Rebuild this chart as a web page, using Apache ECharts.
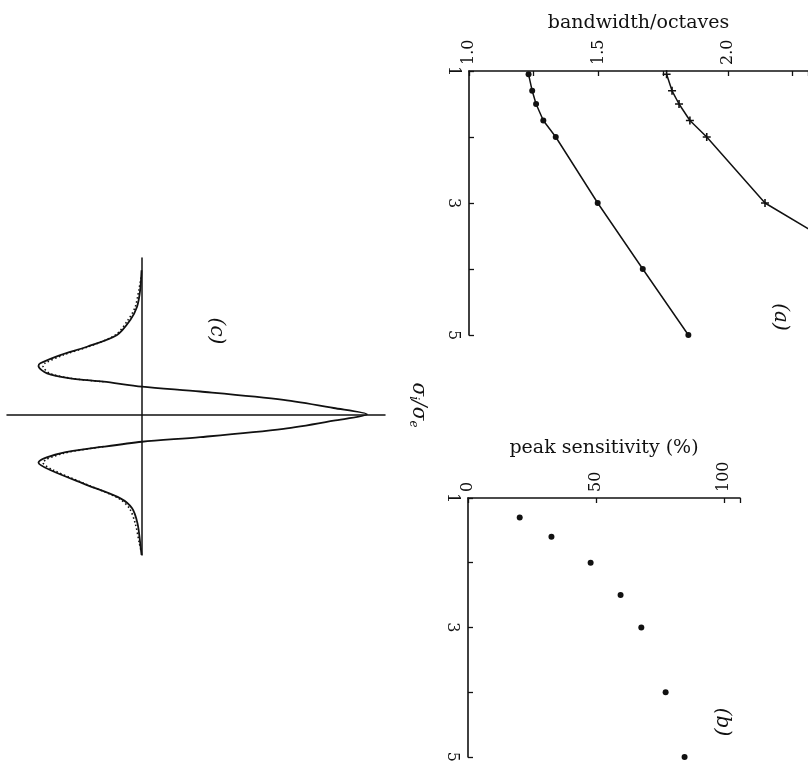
<!DOCTYPE html>
<html>
<head>
<meta charset="utf-8">
<script src="https://cdn.jsdelivr.net/npm/echarts@6/dist/echarts.min.js"></script>
<style>
html,body{margin:0;padding:0;background:#fff;}
#chart{width:808px;height:765px;}
</style>
</head>
<body>
<div id="chart"></div>
<script>
// ---- Panel (a): bandwidth (octaves) vs sigma_i/sigma_e ----
const sigmaLower = [1.05, 1.3, 1.5, 1.75, 2.0, 3.0, 4.0, 5.0];
const bwLower    = [1.23, 1.244, 1.259, 1.287, 1.335, 1.497, 1.671, 1.847];
const sigmaUpper = [1.05, 1.3, 1.5, 1.75, 2.0, 3.0, 4.0];
const bwUpper    = [1.763, 1.784, 1.811, 1.853, 1.918, 2.143, 2.57];
const bwTickLabels = ['1.0', '1.5', '2.0'];
const sigmaTickLabels = ['1', '3', '5'];

// ---- Panel (b): peak sensitivity (%) vs sigma_i/sigma_e ----
const sigmaB = [1.3, 1.6, 2.0, 2.5, 3.0, 4.0, 5.0];
const peakB  = [20.2, 32.6, 47.9, 59.6, 67.7, 77.2, 84.6];
const peakTickLabels = ['0', '50', '100'];

// ---- Panel (c): profile (position vs amplitude) ----
const posSolid = [3.0, 2.59, 2.24, 1.965, 1.652, 1.408, 1.235, 1.063, 1.006, 0.854, 0.75, 0.679, 0.575, 0.475, 0.302, 0.132, 0,
                  -0.132, -0.302, -0.475, -0.571, -0.675, -0.813, -1.008, -1.16, -1.473, -1.75, -1.958, -2.271, -2.681, -2.93];
const ampSolid = [-0.002, -0.008, -0.022, -0.052, -0.111, -0.244, -0.363, -0.452, -0.46, -0.422, -0.319, -0.171, 0, 0.259, 0.629, 0.852, 1.0,
                  0.852, 0.629, 0.259, 0, -0.171, -0.363, -0.46, -0.408, -0.244, -0.096, -0.044, -0.02, -0.008, -0.002];
const posDotUpper = [2.85, 2.59, 2.24, 1.965, 1.652, 1.408, 1.235, 1.063, 1.006, 0.854, 0.75, 0.679];
const ampDotUpper = [-0.004, -0.014, -0.03, -0.062, -0.118, -0.238, -0.35, -0.432, -0.44, -0.41, -0.315, -0.171];
const posDotLower = [-0.675, -0.813, -1.008, -1.16, -1.473, -1.75, -1.958, -2.271, -2.681, -2.85];
const ampDotLower = [-0.171, -0.35, -0.44, -0.395, -0.24, -0.104, -0.056, -0.03, -0.012, -0.004];

const zip = (xs, ys) => xs.map((x, i) => [x, ys[i]]);
const SERIF = '"DejaVu Serif", "Liberation Serif", serif';
const INK = '#111';

const chart = echarts.init(document.getElementById('chart'), null, {renderer: 'canvas'});

const axisLineStyle = {lineStyle: {color: INK, width: 1.6}};
const tickStyle = {show: true, inside: true, length: 5, lineStyle: {color: INK, width: 1.3}};
const labelFont = {color: INK, fontFamily: SERIF, fontSize: 16, rotate: -90};

const plusPath = 'path://M4,0 L6,0 L6,4 L10,4 L10,6 L6,6 L6,10 L4,10 L4,6 L0,6 L0,4 L4,4 Z';

const option = {
  backgroundColor: '#fff',
  animation: false,
  grid: [
    {left: 469, top: 71, width: 339, height: 264},
    {left: 468, top: 498, width: 272, height: 262},
    {left: 7, top: 258, width: 378, height: 297}
  ],
  xAxis: [
    {
      gridIndex: 0, type: 'value', position: 'top', min: 1, max: 2.309, interval: 0.25,
      name: 'bandwidth/octaves', nameLocation: 'middle', nameGap: 38,
      nameTextStyle: {color: INK, fontFamily: SERIF, fontSize: 19},
      axisLine: axisLineStyle, axisTick: tickStyle, splitLine: {show: false},
      axisLabel: Object.assign({}, labelFont, {
        margin: 6,
        formatter: v => { const i = bwTickLabels.indexOf(v.toFixed(1)); return (i >= 0 && Math.abs(v * 2 - Math.round(v * 2)) < 1e-6) ? bwTickLabels[i] : ''; }
      })
    },
    {
      gridIndex: 1, type: 'value', position: 'top', min: 0, max: 106.25, interval: 50,
      name: 'peak sensitivity (%)', nameLocation: 'middle', nameGap: 32,
      nameTextStyle: {color: INK, fontFamily: SERIF, fontSize: 19},
      axisLine: axisLineStyle, axisTick: tickStyle, splitLine: {show: false},
      axisLabel: Object.assign({}, labelFont, {
        margin: 6,
        formatter: v => peakTickLabels.indexOf(String(v)) >= 0 ? String(v) : ''
      })
    },
    {
      gridIndex: 2, type: 'value', min: -0.6, max: 1.08,
      axisLine: {show: true, onZero: true, lineStyle: {color: INK, width: 1.5}},
      axisTick: {show: false}, axisLabel: {show: false}, splitLine: {show: false}
    }
  ],
  yAxis: [
    {
      gridIndex: 0, type: 'value', min: 1, max: 5, interval: 1, inverse: true,
      axisLine: axisLineStyle, axisTick: tickStyle, splitLine: {show: false},
      axisLabel: Object.assign({}, labelFont, {
        margin: 8,
        formatter: v => sigmaTickLabels.indexOf(String(v)) >= 0 ? String(v) : ''
      })
    },
    {
      gridIndex: 1, type: 'value', min: 1, max: 5, interval: 1, inverse: true,
      axisLine: axisLineStyle, axisTick: tickStyle, splitLine: {show: false},
      axisLabel: Object.assign({}, labelFont, {
        margin: 8,
        formatter: v => sigmaTickLabels.indexOf(String(v)) >= 0 ? String(v) : ''
      })
    },
    {
      gridIndex: 2, type: 'value', min: -2.93, max: 3.256,
      axisLine: {show: true, onZero: true, lineStyle: {color: INK, width: 1.5}},
      axisTick: {show: false}, axisLabel: {show: false}, splitLine: {show: false}
    }
  ],
  series: [
    {
      type: 'line', xAxisIndex: 0, yAxisIndex: 0, data: zip(bwLower, sigmaLower),
      symbol: 'circle', symbolSize: 6, clip: true,
      lineStyle: {color: INK, width: 1.5}, itemStyle: {color: INK}
    },
    {
      type: 'line', xAxisIndex: 0, yAxisIndex: 0, data: zip(bwUpper, sigmaUpper),
      symbol: plusPath, symbolSize: 8, clip: true,
      lineStyle: {color: INK, width: 1.5}, itemStyle: {color: INK}
    },
    {
      type: 'scatter', xAxisIndex: 1, yAxisIndex: 1, data: zip(peakB, sigmaB),
      symbol: 'circle', symbolSize: 6, itemStyle: {color: INK, opacity: 1}
    },
    {
      type: 'line', xAxisIndex: 2, yAxisIndex: 2, data: zip(ampDotUpper, posDotUpper),
      symbol: 'none', smooth: 0.3, lineStyle: {color: INK, width: 1.6, type: [1.5, 2.5]}
    },
    {
      type: 'line', xAxisIndex: 2, yAxisIndex: 2, data: zip(ampDotLower, posDotLower),
      symbol: 'none', smooth: 0.3, lineStyle: {color: INK, width: 1.6, type: [1.5, 2.5]}
    },
    {
      type: 'line', xAxisIndex: 2, yAxisIndex: 2, data: zip(ampSolid, posSolid),
      symbol: 'none', smooth: 0.3, lineStyle: {color: INK, width: 1.8}
    }
  ],
  graphic: [
    {
      type: 'text', x: 418, y: 405, rotation: -Math.PI / 2,
      style: {
        text: '{s|σ}{sub|i}{s|/σ}{sub|e}', textAlign: 'center', textVerticalAlign: 'middle',
        rich: {
          s: {fontFamily: SERIF, fontSize: 20, fontStyle: 'italic', fill: INK},
          sub: {fontFamily: SERIF, fontSize: 12, fontStyle: 'italic', fill: INK, verticalAlign: 'bottom', padding: [10, 0, 0, 0]}
        }
      }
    },
    {
      type: 'text', x: 780, y: 317, rotation: -Math.PI / 2,
      style: {text: '(a)', font: 'italic 20px ' + SERIF, fill: INK, textAlign: 'center', textVerticalAlign: 'middle'}
    },
    {
      type: 'text', x: 722, y: 722, rotation: -Math.PI / 2,
      style: {text: '(b)', font: 'italic 20px ' + SERIF, fill: INK, textAlign: 'center', textVerticalAlign: 'middle'}
    },
    {
      type: 'text', x: 216, y: 331, rotation: -Math.PI / 2,
      style: {text: '(c)', font: 'italic 20px ' + SERIF, fill: INK, textAlign: 'center', textVerticalAlign: 'middle'}
    }
  ]
};

chart.setOption(option);
</script>
</body>
</html>
